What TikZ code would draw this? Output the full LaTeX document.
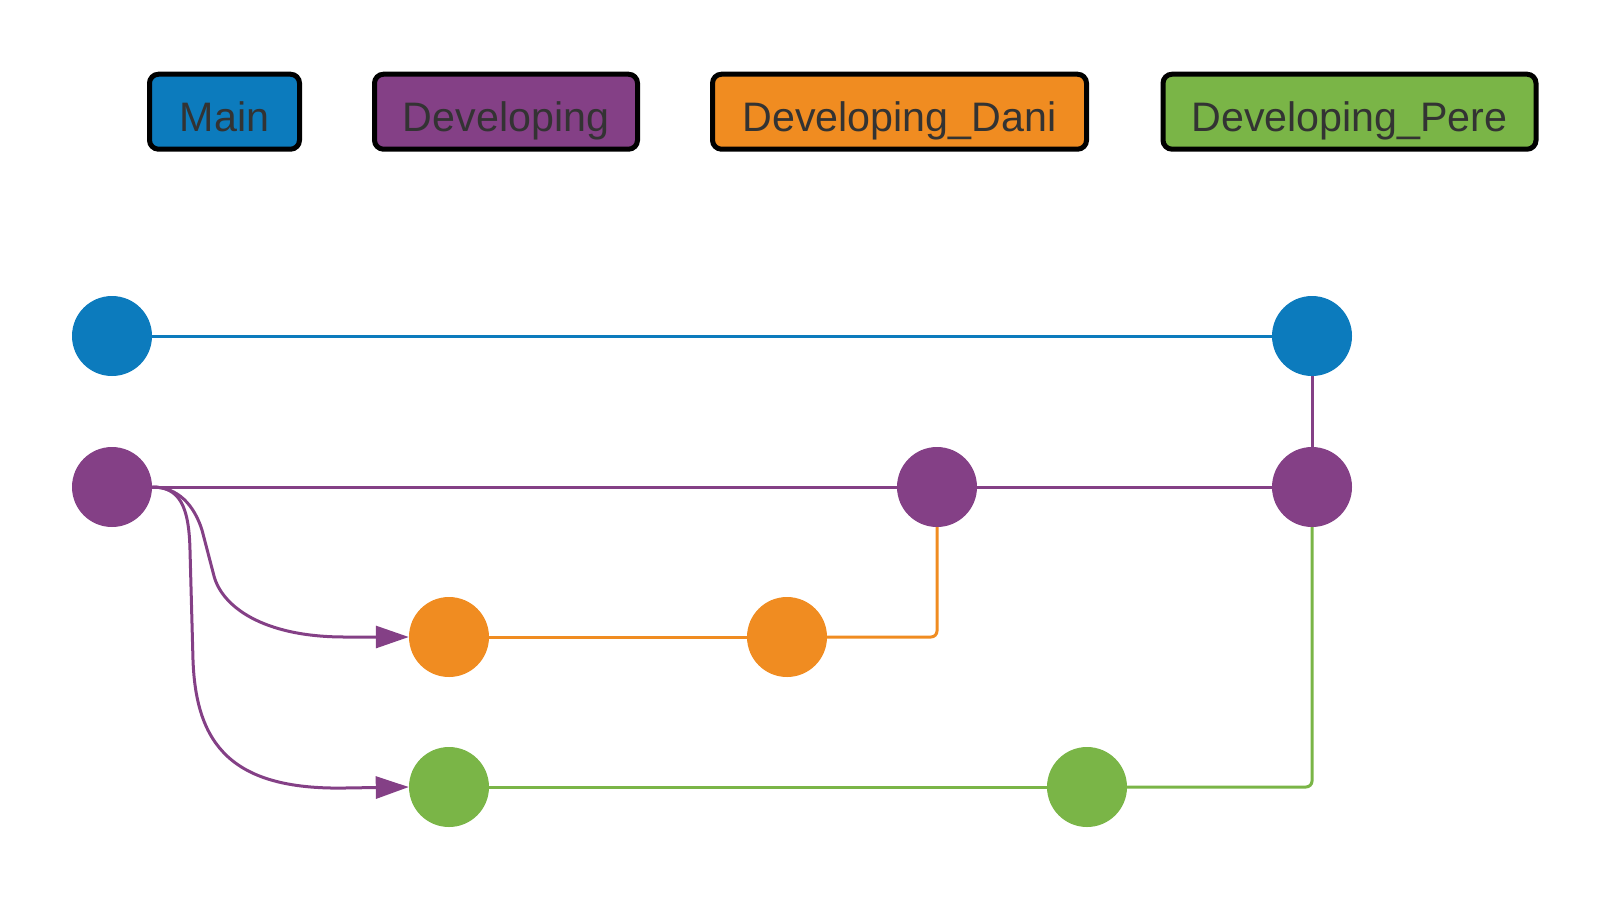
\documentclass[tikz,border=0pt]{standalone}
\usepackage{fontspec}
\setmainfont{Liberation Sans}
\usetikzlibrary{arrows.meta}
\definecolor{cblue}{HTML}{0C7BBD}
\definecolor{cpurple}{HTML}{844086}
\definecolor{corange}{HTML}{F08C21}
\definecolor{cgreen}{HTML}{7AB547}
\definecolor{ctext}{HTML}{333333}
\begin{document}
\begin{tikzpicture}[x=1pt,y=-1pt,
 tagbox/.style={draw=black, line width=5pt, rounded corners=9pt, minimum height=75pt, inner sep=0pt},
 tagtext/.style={text=ctext, font=\fontsize{41.2}{48}\selectfont, anchor=base, inner sep=0pt},
 commit/.style={circle, minimum size=80pt, inner sep=0pt},
 link/.style={line width=3pt},
 branch/.style={line width=3pt, cpurple, -{Triangle[length=33pt,width=22pt]}}]
\useasboundingbox (0,0) rectangle (1613,900);
% legend
\node[tagbox, fill=cblue, minimum width=150pt] (tagmain) at (224.5,111.7) {};
\node[tagtext] (txtmain) at (224.5,131.5) {Main};
\node[tagbox, fill=cpurple, minimum width=263pt] (tagdev) at (506,111.7) {};
\node[tagtext] (txtdev) at (506,131.5) {Developing};
\node[tagbox, fill=corange, minimum width=374pt] (tagdani) at (899.5,111.7) {};
\node[tagtext] (txtdani) at (899.5,131.5) {Developing\_Dani};
\node[tagbox, fill=cgreen, minimum width=373pt] (tagpere) at (1349.5,111.7) {};
\node[tagtext] (txtpere) at (1349.5,131.5) {Developing\_Pere};
% commits
\node[commit, fill=cblue] (main1) at (112,336) {};
\node[commit, fill=cblue] (main2) at (1312,336) {};
\node[commit, fill=cpurple] (dev1) at (112,487) {};
\node[commit, fill=cpurple] (dev2) at (937,487) {};
\node[commit, fill=cpurple] (dev3) at (1312,487) {};
\node[commit, fill=corange] (dani1) at (449,637) {};
\node[commit, fill=corange] (dani2) at (787,637) {};
\node[commit, fill=cgreen] (pere1) at (449,787) {};
\node[commit, fill=cgreen] (pere2) at (1087,787) {};
% links
\draw[link, cblue] (main1) -- (main2);
\draw[link, cpurple] (dev1) -- (dev2);
\draw[link, cpurple] (dev2) -- (dev3);
\draw[link, cpurple] (main2) -- (dev3);
\draw[link, corange] (dani1) -- (dani2);
\draw[link, corange, rounded corners=6pt] (dani2) -| (dev2);
\draw[link, cgreen] (pere1) -- (pere2);
\draw[link, cgreen, rounded corners=6pt] (pere2) -| (dev3);
% branch arrows
\draw[branch] (dev1.east) .. controls (178,487) and (194,505) .. (202,530)
  -- (214,576) .. controls (222,606) and (262,637) .. (345,637) -- (dani1.west);
\draw[branch] (dev1.east) .. controls (179,487) and (189,505) .. (190,550)
  -- (193,660) .. controls (196,745) and (232,790) .. (345,788) -- (pere1.west);
\end{tikzpicture}
\end{document}
